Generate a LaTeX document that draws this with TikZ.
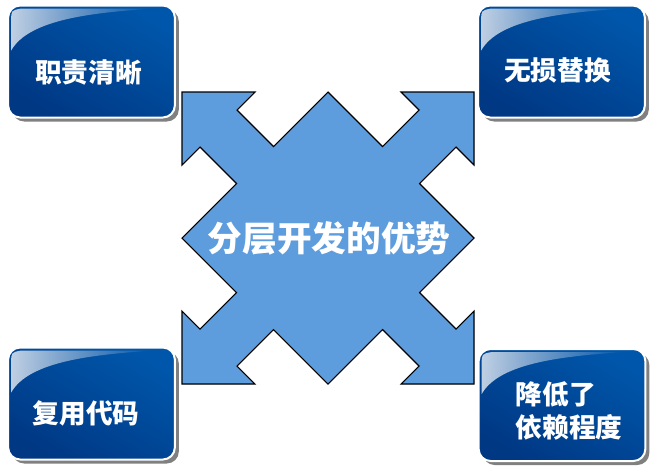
\documentclass[tikz,border=0pt]{standalone}
\usepackage{fontspec}
\usepackage{xcolor}
\usepackage{tikz}
\usetikzlibrary{positioning,shadows,fadings}
\newfontfamily\cjk{Noto Sans CJK SC}
\definecolor{boxlight}{RGB}{0,86,170}
\definecolor{boxdark}{RGB}{0,56,132}
\definecolor{starblue}{RGB}{93,156,221}
\tikzfading[name=glossfade, left color=transparent!25, right color=transparent!100]

\begin{document}
\begin{tikzpicture}[
        x=0.75pt, y=-0.75pt,
        box/.style={rectangle, rounded corners=9pt, draw=white, line width=1.5pt, top color=boxlight, bottom color=boxdark, shading angle=-30, minimum width=125pt, minimum height=84pt, drop shadow={shadow xshift=3pt, shadow yshift=-3pt, fill=black!50, opacity=1}},
        gloss/.style={white, path fading=glossfade},
        boxtext/.style={text=white, font=\cjk\bfseries\fontsize{20}{25}\selectfont, align=left},
        star/.style={draw=black, line width=0.8pt, fill=starblue, line join=miter},
        title/.style={text=white, font=\cjk\bfseries\fontsize{26}{30}\selectfont}
    ]
    \useasboundingbox (0,0) rectangle (652,472);

    % Boxes
    \node[box] (zhize) at (91.5,61.5) {};
    \node[box] (tihuan) at (561.5,61.5) {};
    \node[box] (fuyong) at (91.5,403.5) {};
    \node[box] (yilai) at (562,405) {};

    % Gloss on the boxes
    \foreach \b in {zhize,tihuan,fuyong,yilai} {
        \fill[gloss] ([shift={(4,46)}]\b.north west) -- ([shift={(4,16)}]\b.north west)
            .. controls ([shift={(4,6)}]\b.north west) .. ([shift={(14,4)}]\b.north west)
            -- ([shift={(-22,4)}]\b.north east)
            .. controls ([shift={(-80,8)}]\b.north east) and ([shift={(22,14)}]\b.north west) .. cycle;
    }

    % Box labels
    \node[boxtext] (t1) at (88.5,72) {职责清晰};
    \node[boxtext] (t2) at (557.5,70) {无损替换};
    \node[boxtext] (t3) at (86,413) {复用代码};
    \node[boxtext, anchor=west] (t4) at (511,411) {降低了\\依赖程度};

    % Star with four arrows
    \begin{scope}[shift={(328,238)}]
        \fill[black!45] ([shift={(2,2)}]-146,-146) -- (-73,-146) -- (-91,-128) -- (-54.5,-91.5) -- (0,-146)
            -- (54.5,-91.5) -- (91,-128) -- (73,-146) -- (146,-146)
            -- (146,-73) -- (128,-91) -- (91.5,-54.5) -- (146,0)
            -- (91.5,54.5) -- (128,91) -- (146,73) -- (146,146)
            -- (73,146) -- (91,128) -- (54.5,91.5) -- (0,146)
            -- (-54.5,91.5) -- (-91,128) -- (-73,146) -- (-146,146)
            -- (-146,73) -- (-128,91) -- (-91.5,54.5) -- (-146,0)
            -- (-91.5,-54.5) -- (-128,-91) -- (-146,-73) -- cycle;
        \draw[star] (-146,-146) -- (-73,-146) -- (-91,-128) -- (-54.5,-91.5) -- (0,-146)
            -- (54.5,-91.5) -- (91,-128) -- (73,-146) -- (146,-146)
            -- (146,-73) -- (128,-91) -- (91.5,-54.5) -- (146,0)
            -- (91.5,54.5) -- (128,91) -- (146,73) -- (146,146)
            -- (73,146) -- (91,128) -- (54.5,91.5) -- (0,146)
            -- (-54.5,91.5) -- (-91,128) -- (-73,146) -- (-146,146)
            -- (-146,73) -- (-128,91) -- (-91.5,54.5) -- (-146,0)
            -- (-91.5,-54.5) -- (-128,-91) -- (-146,-73) -- cycle;
        \node[title] (center) at (1,0) {分层开发的优势};
    \end{scope}
\end{tikzpicture}
\end{document}
